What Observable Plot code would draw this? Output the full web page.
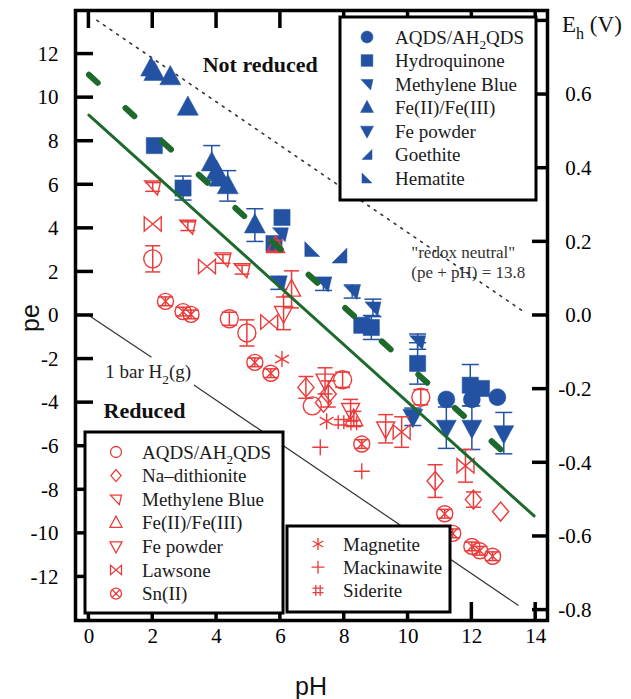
<!DOCTYPE html>
<html><head><meta charset="utf-8">
<script src="https://cdn.jsdelivr.net/npm/d3@7"></script>
<script src="https://cdn.jsdelivr.net/npm/@observablehq/plot@0.6"></script>
<style>
html,body{margin:0;padding:0;background:#fff;}
#chart{width:631px;height:699px;}
</style></head><body><div id="chart"></div>
<script>
// ---------- data ----------
const xTicks = [0, 2, 4, 6, 8, 10, 12, 14];
const yTicks = [-12, -10, -8, -6, -4, -2, 0, 2, 4, 6, 8, 10, 12];
const ehTicks = [0.8, 0.6, 0.4, 0.2, 0.0, -0.2, -0.4, -0.6, -0.8];
const EH_PER_PE = 0.05916;

// [pH, pe, err(up), err(down, optional)]
const blueAQDS = [[11.2,-3.85],[12.0,-3.85],[12.8,-3.75]];
const blueHydroquinone = [[2.05,7.8],[2.95,5.85,0.55],[6.05,4.5],[5.8,3.3],[8.55,-0.45],[8.85,-0.55,0.55],[10.3,-2.2,0.95],[11.95,-3.2,0.95],[12.3,-3.35]];
const blueMethylene = [[6.0,3.75],[5.95,1.5,0.3],[7.35,1.45,0.3],[8.25,1.1,0.3],[8.9,0.35,0.4],[10.3,-1.2,0.35]];
const blueFeIII = [[1.95,11.35],[2.05,11.15],[2.55,10.95],[3.1,9.55],[3.85,7.0,0.8],[4.0,6.6],[4.1,6.3],[4.35,5.95,0.7],[5.2,4.15,0.75]];
const blueFePowder = [[10.15,-4.65,0.4],[11.2,-5.15,0.95],[12.0,-5.15,1.0],[13.0,-5.4,0.95]];
const blueGoethite = [[7.85,2.75]];
const blueHematite = [[7.0,3.05]];

const redAQDS = [[2.0,2.6,0.6],[4.4,-0.15,0.3],[4.95,-0.8,0.6],[7.0,-4.15],[7.95,-2.95,0.35],[10.4,-3.75,0.35]];
const redDithionite = [[6.8,-3.3,0.5],[7.35,-4.0],[7.5,-3.6,0.6],[10.85,-7.6,0.75],[12.05,-8.45,0.35],[12.9,-9.0]];
const redMethylene = [[2.0,5.9,0.2],[3.1,4.1,0.2],[4.2,2.6,0.2],[4.8,2.1,0.2]];
const redFeIII = [[5.85,3.2,0.25],[6.35,1.2,0.85],[8.3,-4.75,0.35]];
const redFePowder = [[6.1,0.1,0.75],[7.4,-3.0,0.6],[8.2,-4.35,0.5],[9.3,-5.2,0.65]];
const redLawsone = [[2.0,4.2],[3.7,2.25],[5.65,-0.3],[9.8,-5.35,0.7],[11.8,-6.9,0.75]];
const redSn = [[2.4,0.65,0.2],[2.95,0.18,0.2],[3.2,0.05,0.2],[5.2,-2.15,0.2],[5.7,-2.65,0.2],[8.55,-5.9,0.2],[11.15,-9.1,0.2],[11.4,-10.0,0.2],[12.0,-10.6,0.2],[12.25,-10.8,0.2],[12.65,-11.05,0.2]];
const redMagnetite = [[6.05,-2.0],[7.45,-4.85]];
const redMackinawite = [[7.25,-6.05],[8.55,-7.15]];
const redSiderite = [[7.9,-4.9],[8.3,-4.95]];

const neutralLine = [[0.25,13.55],[13.6,0.2]];
const h2LineA = [[0,0],[1.95,-1.9]];
const h2LineB = [[3.3,-3.2],[13.45,-13.3]];
const greenSolid = [[0,9.2],[13.95,-9.2]];
const greenDashed = [[0,11.05],[13.2,-6.55]];

const regionLabels = [[5.37,11.5,"Not reduced"],[1.74,-4.36,"Reduced"]];
const neutralLabels = [[10.1,2.9,"\"redox neutral\""],[10.1,1.97,"(pe + pH) = 13.8"]];
const h2Label = [0.53,-2.6,"1 bar H_2(g)"];

// ---------- layout & style ----------
const W = 631, H = 699, ML = 75, MR = 84, MT = 10, MB = 79;
const XD = [-0.42, 14.37], YD = [-14, 14];
const BLUE = "#2352a3", RED = "#eb3b3b", GREEN = "#1e6a2c";
const SERIF = "'Liberation Serif','Times New Roman',serif";
const SANS = "'Liberation Sans',Arial,sans-serif";

function mk(fn){ return {draw(c, size){ const r = Math.sqrt(size/Math.PI); fn(c, r); }}; }
const symCircle = mk((c,r)=>{ c.moveTo(r,0); c.arc(0,0,r,0,2*Math.PI); c.closePath(); });
const symSquare = mk((c,r)=>{ const s=r*0.9; c.rect(-s,-s,2*s,2*s); });
const symTriUp = mk((c,r)=>{ c.moveTo(0,-1.1*r); c.lineTo(r,0.75*r); c.lineTo(-r,0.75*r); c.closePath(); });
const symTriDown = mk((c,r)=>{ c.moveTo(0,1.1*r); c.lineTo(r,-0.75*r); c.lineTo(-r,-0.75*r); c.closePath(); });
const symMB = mk((c,r)=>{ c.moveTo(-r,-0.75*r); c.lineTo(r,-0.75*r); c.lineTo(0.6*r,r); c.closePath(); });
const symGoe = mk((c,r)=>{ c.moveTo(r,-r); c.lineTo(r,r); c.lineTo(-r,r); c.closePath(); });
const symHem = mk((c,r)=>{ c.moveTo(-r,-r); c.lineTo(-r,r); c.lineTo(r,r); c.closePath(); });
const symDiamond = mk((c,r)=>{ c.moveTo(0,-r); c.lineTo(0.85*r,0); c.lineTo(0,r); c.lineTo(-0.85*r,0); c.closePath(); });
const symBowtie = mk((c,r)=>{ c.moveTo(-r,-0.85*r); c.lineTo(r,0.85*r); c.lineTo(r,-0.85*r); c.lineTo(-r,0.85*r); c.closePath(); });
const symSn = mk((c,r)=>{ c.moveTo(r,0); c.arc(0,0,r,0,2*Math.PI); c.closePath(); const d=r*0.6; c.moveTo(-d,-d); c.lineTo(d,d); c.moveTo(d,-d); c.lineTo(-d,d); });
const symStar = mk((c,r)=>{ c.moveTo(0,-r); c.lineTo(0,r); const a=r*0.87,b=r*0.5; c.moveTo(-a,-b); c.lineTo(a,b); c.moveTo(-a,b); c.lineTo(a,-b); });
const symPlus = mk((c,r)=>{ c.moveTo(-r,0); c.lineTo(r,0); c.moveTo(0,-r); c.lineTo(0,r); });
const symHash = mk((c,r)=>{ const d=r*0.4; c.moveTo(-d,-r); c.lineTo(-d,r); c.moveTo(d,-r); c.lineTo(d,r); c.moveTo(-r,-d); c.lineTo(r,-d); c.moveTo(-r,d); c.lineTo(r,d); });
const symCap = mk((c,r)=>{ c.moveTo(-r,0); c.lineTo(r,0); });

const blueSeries = [
  {data: blueFeIII, sym: symTriUp, r: 10.5},
  {data: blueHydroquinone, sym: symSquare, r: 9},
  {data: blueMethylene, sym: symMB, r: 8},
  {data: blueGoethite, sym: symGoe, r: 7.5},
  {data: blueHematite, sym: symHem, r: 7.5},
  {data: blueFePowder, sym: symTriDown, r: 10},
  {data: blueAQDS, sym: symCircle, r: 8.5},
];
const redSeries = [
  {data: redAQDS, sym: symCircle, r: 9},
  {data: redDithionite, sym: symDiamond, r: 9.5},
  {data: redMethylene, sym: symMB, r: 8},
  {data: redFeIII, sym: symTriUp, r: 9},
  {data: redFePowder, sym: symTriDown, r: 9},
  {data: redLawsone, sym: symBowtie, r: 8.5},
  {data: redSn, sym: symSn, r: 8},
  {data: redMagnetite, sym: symStar, r: 8},
  {data: redMackinawite, sym: symPlus, r: 8},
  {data: redSiderite, sym: symHash, r: 7},
];

function seriesMarks(s, color, filled, capR){
  const bars = s.data.filter(d => d[2] != null).map(d => ({x: d[0], y1: d[1] + d[2], y2: d[1] - (d[3] ?? d[2])}));
  const caps = bars.flatMap(b => [{x: b.x, y: b.y1}, {x: b.x, y: b.y2}]);
  return [
    Plot.ruleX(bars, {x: "x", y1: "y1", y2: "y2", stroke: color, strokeWidth: 1.5}),
    Plot.dot(caps, {x: "x", y: "y", symbol: symCap, r: capR, stroke: color, strokeWidth: 1.5}),
    Plot.dot(s.data, {x: d => d[0], y: d => d[1], symbol: s.sym, r: s.r,
      fill: filled ? color : "none", stroke: color, strokeWidth: filled ? 0.5 : 1.4})
  ];
}
const xy = {x: d => d[0], y: d => d[1]};

const chart = Plot.plot({
  width: W, height: H,
  marginLeft: ML, marginRight: MR, marginTop: MT, marginBottom: MB,
  x: {domain: XD, axis: null},
  y: {domain: YD, axis: null},
  style: {fontFamily: SERIF, fontSize: "21px", color: "black", background: "white"},
  marks: [
    Plot.line(neutralLine, {...xy, stroke: "#333", strokeWidth: 1.6, strokeDasharray: "2,6"}),
    Plot.line(h2LineA, {...xy, stroke: "#333", strokeWidth: 1.2}),
    Plot.line(h2LineB, {...xy, stroke: "#333", strokeWidth: 1.2}),
    ...blueSeries.flatMap(s => seriesMarks(s, BLUE, true, 8.5)),
    ...redSeries.flatMap(s => seriesMarks(s, RED, false, 7.5)),
    Plot.line(greenSolid, {...xy, stroke: GREEN, strokeWidth: 3}),
    Plot.line(greenDashed, {...xy, stroke: GREEN, strokeWidth: 6, strokeDasharray: "12,37.5", strokeLinecap: "round"}),
    Plot.text(regionLabels, {x: d => d[0], y: d => d[1], text: d => d[2], fontWeight: "bold", fontSize: 22, fill: "#111"}),
    Plot.text(neutralLabels, {x: d => d[0], y: d => d[1], text: d => d[2], textAnchor: "start", fontSize: 17, fill: "#333"}),
    Plot.text(yTicks, {y: d => d, text: d => String(d), frameAnchor: "left", dx: -17, textAnchor: "end", fontSize: 21}),
    Plot.text(xTicks, {x: d => d, text: d => String(d), frameAnchor: "bottom", dy: 22, fontSize: 21}),
    Plot.text(ehTicks.slice(1), {y: d => d / EH_PER_PE, text: d => d.toFixed(1), frameAnchor: "right", dx: 44, textAnchor: "end", fontSize: 21}),
    Plot.frame({stroke: "black", strokeWidth: 3.5})
  ]
});
document.getElementById("chart").append(chart);

// ---------- inward ticks, rich text & legends ----------
const svg = d3.select(chart);
const sx = chart.scale("x"), sy = chart.scale("y");
const X0 = sx.apply(XD[0]), X1 = sx.apply(XD[1]), Y0 = sy.apply(YD[0]), Y1 = sy.apply(YD[1]);
const tg = svg.append("g").attr("stroke", "black").attr("stroke-width", 3.5);
xTicks.forEach(v => {
  const x = sx.apply(v);
  tg.append("line").attr("x1", x).attr("x2", x).attr("y1", Y0).attr("y2", Y0 - 18);
  tg.append("line").attr("x1", x).attr("x2", x).attr("y1", Y1).attr("y2", Y1 + 18);
});
yTicks.forEach(v => { const y = sy.apply(v); tg.append("line").attr("x1", X0).attr("x2", X0 + 18).attr("y1", y).attr("y2", y); });
ehTicks.forEach(v => { const y = sy.apply(v / EH_PER_PE); tg.append("line").attr("x1", X1).attr("x2", X1 - 15).attr("y1", y).attr("y2", y); });

function richText(sel, str, size){
  const parts = str.split(/_(\w)/);
  parts.forEach((p, i) => {
    if (!p) return;
    const t = sel.append("tspan").text(p);
    if (i % 2 === 1) t.style("font-size", (size * 0.7) + "px").attr("dy", size * 0.3);
    else if (i > 0) t.attr("dy", -size * 0.3);
  });
}
function addText(parent, x, y, str, size, opts = {}){
  const t = parent.append("text").attr("x", x).attr("y", y + size * 0.35)
    .attr("font-family", opts.font || SERIF)
    .style("font-family", opts.font || SERIF).style("font-size", size + "px")
    .attr("fill", opts.fill || "#111").attr("text-anchor", opts.anchor || "start");
  if (opts.rotate) t.attr("transform", `rotate(${opts.rotate},${x},${y})`);
  richText(t, str, size);
  return t;
}
addText(svg, sx.apply(h2Label[0]), sy.apply(h2Label[1]), h2Label[2], 19, {fill: "#222"});
addText(svg, 562, 24, "E_h (V)", 23, {fill: "#111"});
addText(svg, 30, 318, "pe", 25, {font: SANS, anchor: "middle", rotate: -90});
addText(svg, 311, 686, "pH", 25, {font: SANS, anchor: "middle"});

function symPath(sym, r){ const p = d3.path(); sym.draw(p, Math.PI * r * r); return p.toString(); }
function legend(box, items, symX, textX, y0, step, color, filled){
  const g = svg.append("g");
  g.append("rect").attr("x", box[0]).attr("y", box[1]).attr("width", box[2]).attr("height", box[3])
    .attr("fill", "white").attr("stroke", "black").attr("stroke-width", 3);
  items.forEach((it, i) => {
    const cy = y0 + i * step;
    g.append("path").attr("transform", `translate(${symX},${cy})`).attr("d", symPath(it[1], it[2]))
      .attr("fill", filled ? color : "none").attr("stroke", color).attr("stroke-width", filled ? 0.5 : 1.3);
    addText(g, textX, cy, it[0], 19, {fill: "#1a1a1a"});
  });
}
const blueLegendItems = [["AQDS/AH_2QDS", symCircle, 6],["Hydroquinone", symSquare, 6.5],["Methylene Blue", symMB, 6],["Fe(II)/Fe(III)", symTriUp, 6.5],["Fe powder", symTriDown, 6.5],["Goethite", symGoe, 5],["Hematite", symHem, 5]];
const redLegendItems = [["AQDS/AH_2QDS", symCircle, 5.5],["Na–dithionite", symDiamond, 6],["Methylene Blue", symMB, 5.5],["Fe(II)/Fe(III)", symTriUp, 6],["Fe powder", symTriDown, 6],["Lawsone", symBowtie, 5.5],["Sn(II)", symSn, 5.5]];
const mineralLegendItems = [["Magnetite", symStar, 6],["Mackinawite", symPlus, 6.5],["Siderite", symHash, 5.5]];
legend([340, 17, 196, 183], blueLegendItems, 367, 395, 37, 23.5, BLUE, true);
legend([85, 432, 198, 181], redLegendItems, 116, 142, 452, 23.6, RED, false);
legend([287, 526, 163, 86], mineralLegendItems, 318, 343, 544, 23.2, RED, false);
</script>
</body></html>
